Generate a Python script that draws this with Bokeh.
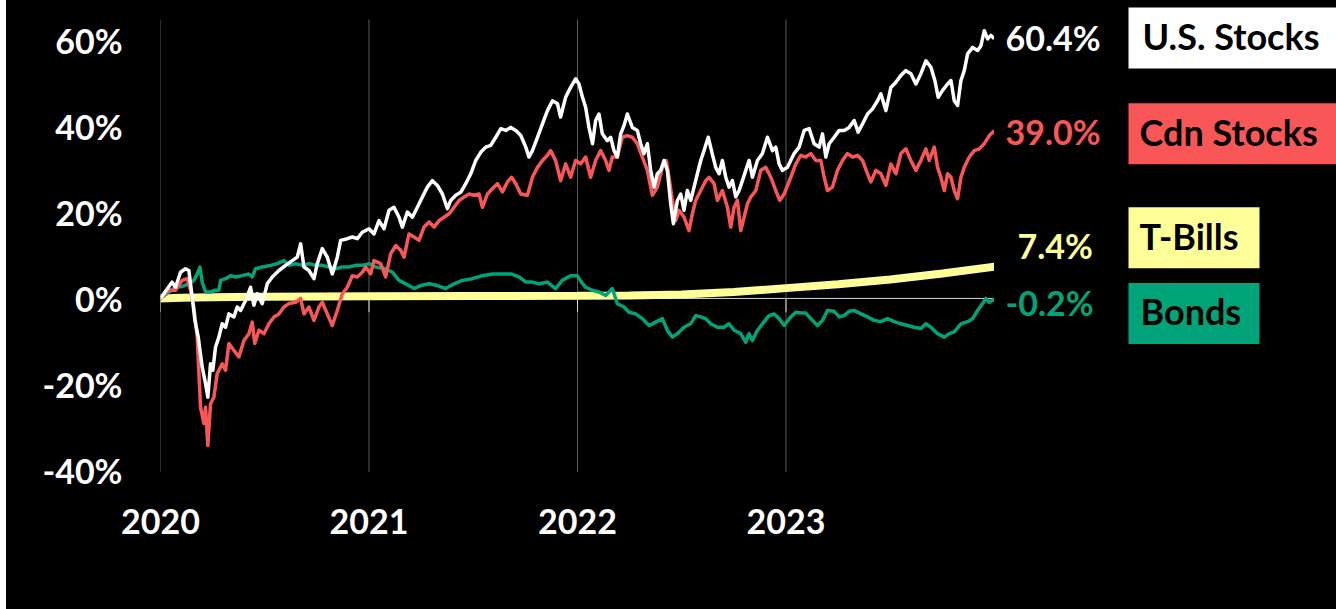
from bokeh.plotting import figure
from bokeh.models import Range1d, FixedTicker, PrintfTickFormatter, Span, Spacer
from bokeh.layouts import row
from bokeh.core.properties import value
from bokeh.embed import file_html
from bokeh.resources import INLINE

# ---------------- DATA (cumulative total return, %) ----------------
us_t = [2020.000, 2020.038, 2020.056, 2020.072, 2020.096, 2020.120, 2020.136, 2020.152, 2020.165, 2020.181,
        2020.200, 2020.216, 2020.227, 2020.240, 2020.251, 2020.264, 2020.280, 2020.296, 2020.312, 2020.328,
        2020.352, 2020.368, 2020.384, 2020.408, 2020.432, 2020.448, 2020.464, 2020.488, 2020.512, 2020.536,
        2020.568, 2020.600, 2020.632, 2020.656, 2020.672, 2020.688, 2020.712, 2020.736, 2020.752, 2020.776,
        2020.800, 2020.824, 2020.848, 2020.864, 2020.896, 2020.920, 2020.944, 2020.968, 2021.000, 2021.024,
        2021.048, 2021.072, 2021.096, 2021.120, 2021.144, 2021.160, 2021.184, 2021.208, 2021.232, 2021.256,
        2021.280, 2021.304, 2021.328, 2021.352, 2021.376, 2021.392, 2021.416, 2021.440, 2021.464, 2021.488,
        2021.512, 2021.536, 2021.560, 2021.584, 2021.608, 2021.632, 2021.656, 2021.680, 2021.704, 2021.728,
        2021.752, 2021.767, 2021.784, 2021.808, 2021.832, 2021.856, 2021.880, 2021.904, 2021.919, 2021.943,
        2021.967, 2021.991, 2022.007, 2022.024, 2022.039, 2022.055, 2022.072, 2022.087, 2022.103, 2022.119,
        2022.143, 2022.159, 2022.175, 2022.191, 2022.207, 2022.223, 2022.239, 2022.263, 2022.287, 2022.303,
        2022.319, 2022.335, 2022.351, 2022.367, 2022.383, 2022.399, 2022.415, 2022.431, 2022.447, 2022.460,
        2022.479, 2022.495, 2022.511, 2022.527, 2022.543, 2022.559, 2022.575, 2022.591, 2022.607, 2022.627,
        2022.646, 2022.663, 2022.679, 2022.695, 2022.711, 2022.727, 2022.743, 2022.759, 2022.775, 2022.791,
        2022.807, 2022.823, 2022.839, 2022.863, 2022.887, 2022.911, 2022.935, 2022.951, 2022.967, 2022.983,
        2023.007, 2023.039, 2023.063, 2023.087, 2023.111, 2023.135, 2023.159, 2023.175, 2023.191, 2023.207,
        2023.231, 2023.255, 2023.279, 2023.303, 2023.327, 2023.346, 2023.367, 2023.391, 2023.415, 2023.439,
        2023.455, 2023.479, 2023.503, 2023.527, 2023.551, 2023.575, 2023.599, 2023.623, 2023.647, 2023.671,
        2023.695, 2023.714, 2023.730, 2023.751, 2023.775, 2023.791, 2023.807, 2023.823, 2023.839, 2023.855,
        2023.871, 2023.895, 2023.919, 2023.935, 2023.951, 2023.967, 2023.983, 2023.999]
us_v = [0.0, 2.6, 3.8, 2.6, 6.1, 6.9, 6.5, 0.3, -5.1, -9.0,
        -16.0, -19.8, -23.0, -15.2, -16.7, -11.3, -9.0, -5.9, -6.7, -3.6,
        -4.3, -2.0, -2.8, -0.5, 2.6, -1.6, 1.1, -1.2, 3.4, 5.0,
        6.5, 7.7, 8.8, 9.6, 12.7, 7.3, 6.5, 4.6, 8.1, 11.6,
        9.6, 5.7, 9.6, 13.5, 13.9, 14.3, 13.9, 15.4, 16.2, 15.0,
        18.1, 16.2, 20.5, 21.2, 18.9, 16.6, 20.1, 18.9, 21.2, 23.6,
        25.9, 27.4, 26.3, 24.3, 20.9, 22.8, 24.0, 24.7, 26.7, 29.0,
        32.1, 34.0, 35.2, 35.6, 37.5, 39.5, 39.1, 39.8, 39.1, 37.9,
        35.2, 32.9, 34.4, 37.5, 40.6, 43.7, 46.0, 45.3, 42.2, 46.8,
        49.1, 51.1, 49.9, 46.8, 44.5, 39.8, 36.0, 41.4, 42.9, 38.3,
        36.7, 37.5, 34.4, 32.9, 38.3, 40.2, 42.9, 39.8, 39.1, 36.0,
        33.7, 36.0, 29.8, 25.9, 29.0, 29.8, 32.1, 29.8, 22.0, 17.4,
        22.8, 24.3, 20.5, 25.1, 22.8, 25.9, 29.0, 32.1, 34.4, 37.5,
        33.7, 30.5, 29.0, 32.1, 28.2, 25.9, 27.4, 23.6, 25.1, 27.4,
        29.8, 32.1, 28.2, 32.1, 33.7, 37.5, 34.4, 35.2, 31.3, 29.8,
        30.5, 33.7, 35.2, 39.1, 39.5, 36.0, 35.2, 38.3, 32.9, 36.0,
        37.5, 39.1, 39.1, 39.8, 41.4, 38.7, 40.6, 42.9, 44.1, 46.0,
        47.6, 43.7, 49.1, 50.3, 51.9, 53.0, 52.3, 49.9, 52.3, 55.3,
        53.8, 50.7, 46.8, 48.4, 49.9, 50.7, 46.0, 44.9, 50.7, 53.0,
        56.9, 58.4, 57.7, 58.8, 62.3, 60.4, 61.2, 60.4]

cdn_t = [2020.000, 2020.038, 2020.072, 2020.104, 2020.128, 2020.144, 2020.160, 2020.176, 2020.192, 2020.208,
         2020.216, 2020.227, 2020.240, 2020.256, 2020.272, 2020.296, 2020.312, 2020.328, 2020.352, 2020.376,
         2020.400, 2020.424, 2020.440, 2020.452, 2020.472, 2020.496, 2020.520, 2020.544, 2020.568, 2020.592,
         2020.616, 2020.648, 2020.672, 2020.688, 2020.712, 2020.736, 2020.760, 2020.776, 2020.800, 2020.824,
         2020.848, 2020.872, 2020.896, 2020.920, 2020.944, 2020.968, 2020.984, 2021.008, 2021.024, 2021.056,
         2021.080, 2021.104, 2021.128, 2021.152, 2021.168, 2021.192, 2021.216, 2021.240, 2021.264, 2021.288,
         2021.312, 2021.336, 2021.360, 2021.384, 2021.408, 2021.432, 2021.456, 2021.480, 2021.504, 2021.528,
         2021.544, 2021.568, 2021.592, 2021.616, 2021.640, 2021.664, 2021.684, 2021.704, 2021.728, 2021.760,
         2021.784, 2021.808, 2021.832, 2021.856, 2021.871, 2021.895, 2021.919, 2021.943, 2021.967, 2021.991,
         2022.015, 2022.039, 2022.063, 2022.087, 2022.111, 2022.135, 2022.151, 2022.167, 2022.191, 2022.215,
         2022.239, 2022.263, 2022.287, 2022.311, 2022.335, 2022.359, 2022.383, 2022.407, 2022.426, 2022.439,
         2022.455, 2022.471, 2022.487, 2022.511, 2022.535, 2022.551, 2022.567, 2022.591, 2022.615, 2022.631,
         2022.655, 2022.671, 2022.695, 2022.719, 2022.735, 2022.751, 2022.767, 2022.783, 2022.799, 2022.815,
         2022.831, 2022.855, 2022.879, 2022.903, 2022.927, 2022.951, 2022.970, 2022.991, 2023.023, 2023.047,
         2023.071, 2023.095, 2023.119, 2023.143, 2023.167, 2023.183, 2023.199, 2023.223, 2023.247, 2023.271,
         2023.295, 2023.319, 2023.343, 2023.367, 2023.391, 2023.407, 2023.431, 2023.455, 2023.479, 2023.503,
         2023.527, 2023.551, 2023.575, 2023.599, 2023.623, 2023.647, 2023.671, 2023.687, 2023.711, 2023.727,
         2023.743, 2023.759, 2023.775, 2023.791, 2023.807, 2023.823, 2023.839, 2023.855, 2023.879, 2023.903,
         2023.927, 2023.951, 2023.975, 2023.999]
cdn_v = [0.0, 1.9, 1.9, 4.2, 4.6, 1.9, -2.0, -9.0, -25.3, -29.1,
         -25.3, -34.2, -24.5, -23.0, -17.5, -15.2, -16.7, -10.5, -12.1, -13.6,
         -9.8, -8.2, -5.5, -10.5, -7.4, -8.2, -5.9, -4.3, -3.6, -2.0,
         -1.2, -0.9, 0.0, -3.6, -2.0, -5.1, -2.0, -0.9, -3.6, -6.3,
         -2.8, 1.1, 2.6, 5.3, 5.0, 6.1, 7.3, 5.7, 8.8, 8.1,
         5.0, 10.4, 12.3, 11.2, 9.6, 15.0, 14.3, 13.5, 16.6, 17.8,
         16.6, 18.1, 18.9, 19.7, 21.2, 22.8, 23.6, 24.3, 24.0, 24.3,
         21.2, 24.3, 25.5, 26.7, 24.8, 27.1, 28.2, 26.7, 24.3, 24.0,
         28.2, 30.5, 32.1, 33.3, 34.4, 32.1, 27.4, 31.3, 28.2, 32.1,
         31.3, 32.9, 28.2, 32.1, 34.4, 32.1, 29.8, 32.9, 32.9, 37.5,
         37.9, 37.5, 36.0, 32.9, 29.8, 24.0, 25.9, 30.5, 32.1, 28.2,
         22.8, 18.1, 20.5, 18.9, 15.8, 19.7, 22.8, 25.1, 27.4, 28.2,
         26.7, 22.8, 25.1, 21.2, 16.6, 21.2, 22.8, 15.8, 18.9, 22.0,
         23.6, 25.1, 29.8, 30.5, 28.2, 25.1, 22.8, 24.3, 28.2, 31.3,
         33.3, 32.9, 33.7, 32.1, 32.1, 28.2, 25.1, 25.9, 29.8, 32.1,
         33.7, 32.9, 33.3, 32.1, 29.0, 27.1, 29.8, 29.0, 26.3, 31.3,
         29.0, 33.7, 34.8, 32.1, 29.8, 32.1, 34.8, 32.1, 35.2, 30.5,
         28.2, 25.1, 29.0, 28.2, 25.1, 23.2, 28.2, 30.5, 32.9, 34.4,
         34.8, 36.0, 37.9, 39.0]

tb_t = [2020.00, 2020.10, 2020.25, 2020.50, 2020.75, 2021.00, 2021.50, 2022.00, 2022.25, 2022.50,
        2022.75, 2023.00, 2023.25, 2023.50, 2023.75, 2024.00]
tb_v = [0.0, 0.15, 0.3, 0.4, 0.45, 0.5, 0.55, 0.6, 0.7, 0.9,
        1.5, 2.4, 3.3, 4.4, 5.8, 7.4]

bd_t = [2020.000, 2020.040, 2020.072, 2020.104, 2020.136, 2020.160, 2020.176, 2020.189, 2020.200, 2020.216,
        2020.240, 2020.264, 2020.280, 2020.288, 2020.312, 2020.336, 2020.360, 2020.392, 2020.424, 2020.440,
        2020.456, 2020.488, 2020.528, 2020.560, 2020.592, 2020.616, 2020.648, 2020.680, 2020.712, 2020.744,
        2020.776, 2020.808, 2020.840, 2020.872, 2020.904, 2020.936, 2020.968, 2021.000, 2021.032, 2021.080,
        2021.112, 2021.144, 2021.176, 2021.216, 2021.248, 2021.288, 2021.328, 2021.368, 2021.408, 2021.448,
        2021.496, 2021.544, 2021.592, 2021.640, 2021.680, 2021.720, 2021.752, 2021.784, 2021.816, 2021.856,
        2021.895, 2021.927, 2021.967, 2021.999, 2022.023, 2022.039, 2022.072, 2022.103, 2022.135, 2022.167,
        2022.191, 2022.223, 2022.247, 2022.279, 2022.311, 2022.343, 2022.375, 2022.407, 2022.431, 2022.455,
        2022.479, 2022.511, 2022.543, 2022.567, 2022.591, 2022.615, 2022.639, 2022.671, 2022.703, 2022.727,
        2022.751, 2022.783, 2022.807, 2022.823, 2022.839, 2022.863, 2022.887, 2022.919, 2022.943, 2022.967,
        2022.991, 2023.023, 2023.047, 2023.071, 2023.095, 2023.119, 2023.151, 2023.175, 2023.199, 2023.231,
        2023.255, 2023.279, 2023.303, 2023.327, 2023.359, 2023.391, 2023.423, 2023.455, 2023.487, 2023.519,
        2023.551, 2023.583, 2023.615, 2023.647, 2023.671, 2023.695, 2023.727, 2023.759, 2023.783, 2023.807,
        2023.839, 2023.871, 2023.895, 2023.919, 2023.943, 2023.959, 2023.975, 2023.999]
bd_v = [0.0, 1.5, 2.6, 2.8, 3.4, 4.2, 5.7, 7.3, 3.8, 1.5,
        1.5, 1.9, 1.9, 4.2, 4.6, 5.3, 5.0, 5.3, 5.7, 5.0,
        6.9, 7.3, 7.7, 8.1, 8.8, 7.7, 8.1, 7.7, 8.1, 7.7,
        7.7, 7.3, 6.9, 7.3, 7.3, 7.7, 7.7, 8.1, 7.3, 6.9,
        6.1, 4.2, 3.4, 2.3, 3.0, 3.4, 3.0, 2.3, 3.4, 4.2,
        4.6, 5.3, 5.7, 5.7, 5.7, 5.0, 3.8, 3.8, 3.4, 3.8,
        2.3, 4.2, 5.3, 5.3, 3.5, 2.6, 1.9, 1.5, 0.7, 2.3,
        -1.2, -2.0, -3.2, -3.6, -4.7, -6.3, -5.5, -4.7, -7.4, -9.0,
        -8.2, -6.7, -5.9, -4.0, -4.3, -4.7, -5.9, -6.7, -6.7, -5.9,
        -7.4, -8.2, -10.2, -8.2, -9.8, -7.4, -5.9, -4.0, -3.6, -4.7,
        -6.3, -4.3, -3.2, -3.4, -3.4, -4.7, -6.3, -5.1, -2.8, -3.0,
        -4.3, -4.0, -3.0, -2.8, -3.6, -4.3, -5.1, -5.4, -4.7, -5.4,
        -5.9, -6.3, -6.7, -7.0, -5.9, -6.7, -8.2, -9.0, -8.2, -7.8,
        -5.9, -5.4, -4.7, -2.8, -1.2, 0.0, -0.9, -0.2]

series_names = ["U.S. Stocks", "Cdn Stocks", "T-Bills", "Bonds"]
year_ticks = [2020, 2021, 2022, 2023]
pct_ticks = [-40, -20, 0, 20, 40, 60]

# ---------------- STYLE ----------------
WHITE = "#FFFFFF"
RED = "#F95757"
YELLOW = "#FFFF99"
GREEN = "#00A478"
FONT = "Lato"
PLOT_TOP = 64.9          # top of the plot area (value)
Y_MIN = -40.5
PX_PER_UNIT = 453 / (PLOT_TOP - Y_MIN)
Y_MAX = PLOT_TOP + 19 / PX_PER_UNIT   # extend frame to the top edge of the canvas
BLACK_BG = {"background-color": "black"}
LW = 3.5

shared_y = Range1d(Y_MIN, Y_MAX)

p = figure(width=988, height=609, x_range=Range1d(2020, 2024), y_range=shared_y,
           output_backend="svg", toolbar_location=None,
           min_border_left=154, min_border_right=0, min_border_top=0, min_border_bottom=137,
           background_fill_color="black", border_fill_color="black", outline_line_color=None,
           styles=BLACK_BG)

for ax in (p.xaxis[0], p.yaxis[0]):
    ax.axis_line_color = None
    ax.major_tick_line_color = None
    ax.minor_tick_line_color = None
    ax.major_tick_out = 0
    ax.major_tick_in = 0
    ax.major_label_text_font = FONT
    ax.major_label_text_font_style = "bold"
    ax.major_label_text_font_size = "34px"
    ax.major_label_text_color = WHITE

p.yaxis.ticker = FixedTicker(ticks=pct_ticks)
p.yaxis.formatter = PrintfTickFormatter(format="%d%%")
p.yaxis.major_label_standoff = 38
p.xaxis.ticker = FixedTicker(ticks=year_ticks)
p.xaxis.formatter = PrintfTickFormatter(format="%d")
p.xaxis.major_label_standoff = 36

p.grid.grid_line_color = None
# vertical year gridlines spanning the plot area
p.segment(x0=year_ticks, y0=[Y_MIN] * len(year_ticks), x1=year_ticks, y1=[PLOT_TOP] * len(year_ticks),
          line_color="#5a5a5a", line_width=1)

zero = Span(location=0, dimension="width", line_color="#d9d9d9", line_width=1, level="underlay")
p.add_layout(zero)
p.segment(x0=year_ticks, y0=[0] * len(year_ticks), x1=year_ticks, y1=[-3.2] * len(year_ticks),
          line_color="#d9d9d9", line_width=1)

p.line(tb_t, tb_v, line_color=YELLOW, line_width=8)
p.line(bd_t, bd_v, line_color=GREEN, line_width=LW, line_join="round")
p.line(cdn_t, cdn_v, line_color=RED, line_width=LW, line_join="round")
p.line(us_t, us_v, line_color=WHITE, line_width=LW, line_join="round")

# ---------------- RIGHT PANEL (end labels + legend boxes) ----------------
q = figure(width=342, height=609, x_range=Range1d(0, 342), y_range=shared_y,
           output_backend="svg", toolbar_location=None, x_axis_location=None, y_axis_location=None,
           min_border_left=0, min_border_right=0, min_border_top=0, min_border_bottom=137,
           background_fill_color="black", border_fill_color="black", outline_line_color=None,
           styles=BLACK_BG)
q.grid.grid_line_color = None

colors = [WHITE, RED, YELLOW, GREEN]
last_vals = [us_v[-1], cdn_v[-1], tb_v[-1], bd_v[-1]]
end_labels = [f"{v:.1f}%" for v in last_vals]
label_dy = [0.2, -0.2, 4.9, -0.7]
label_x = [11, 11, 23, 11]
q.text(x=label_x, y=[v + d for v, d in zip(last_vals, label_dy)], text=end_labels,
       text_color=colors, text_font=value(FONT), text_font_style="bold", text_font_size="34px",
       text_align="left", text_baseline="middle")

box_y = [60.6, 38.3, 14.1, -3.5]
box_left = 134
box_right = [346, 346, 265, 265]
q.rect(x=[(box_left + r) / 2 for r in box_right], y=box_y,
       width=[r - box_left for r in box_right], height=61, height_units="screen",
       fill_color=colors, line_color=None)
q.text(x=[148, 145, 145, 146], y=[v + 0.5 for v in box_y], text=series_names, text_color="black",
       text_font=value(FONT), text_font_style="bold", text_font_size="36px",
       text_align="left", text_baseline="middle")

layout = row(Spacer(width=6, height=609, styles={"background-color": "white"}), p, q,
             styles=BLACK_BG)
open("out.html", "w").write(file_html(layout, INLINE))
